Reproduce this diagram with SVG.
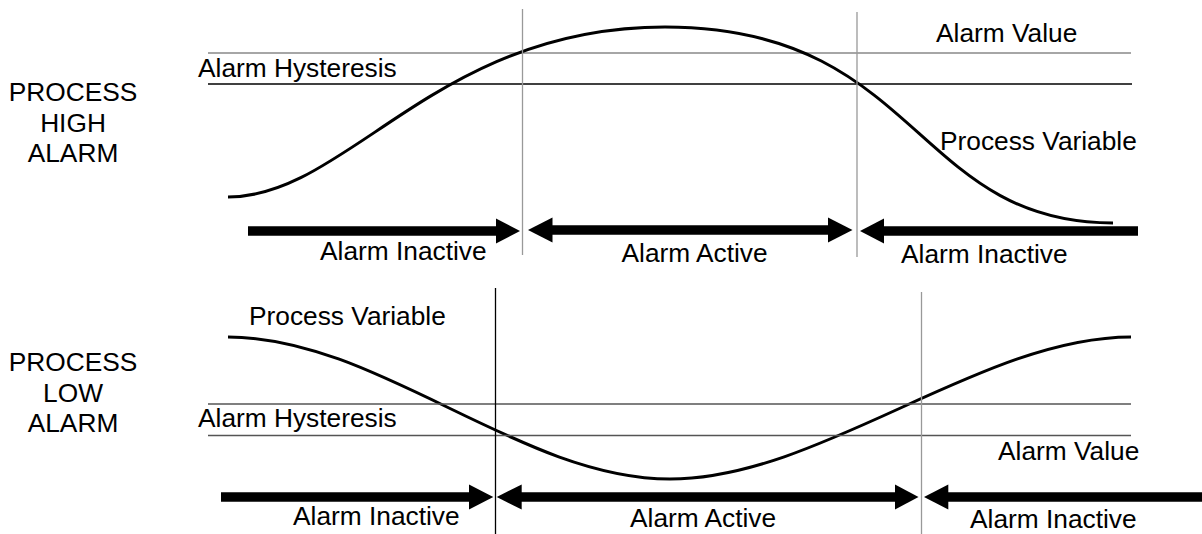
<svg xmlns="http://www.w3.org/2000/svg" width="1202" height="534" viewBox="0 0 1202 534">
<style>
text{font-family:"Liberation Sans",Arial,sans-serif;font-size:26.3px;fill:#000}
.mid{text-anchor:middle}
.ref{stroke:#888;stroke-width:1.3;fill:none}
.hys{stroke:#000;stroke-width:1.3;fill:none}
.ref2{stroke:#555;stroke-width:1.3;fill:none}
.vg{stroke:#999;stroke-width:1.3;fill:none}
.vb{stroke:#000;stroke-width:1.3;fill:none}
.pv{stroke:#000;stroke-width:3;fill:none}
.shaft{stroke:#000;stroke-width:9.5;fill:none}
.head{fill:#000}
</style>
<rect width="1202" height="534" fill="#fff"/>

<g id="high-panel">
  <g id="high-title">
    <text class="mid" x="73" y="101">PROCESS</text>
    <text class="mid" x="73" y="132">HIGH</text>
    <text class="mid" x="73" y="162">ALARM</text>
  </g>
  <g id="high-alarm-value">
    <line class="ref" x1="208" y1="53" x2="1131" y2="53"/>
    <text x="936" y="42">Alarm Value</text>
  </g>
  <g id="high-hysteresis">
    <line class="hys" x1="208" y1="84" x2="1132" y2="84"/>
    <text x="198" y="77">Alarm Hysteresis</text>
  </g>
  <g id="high-pv">
    <path class="pv" d="M228,197 C348,197 435,27 665,27 C920,27 913,223 1113,223"/>
    <text x="940" y="150">Process Variable</text>
  </g>
  <g id="high-markers">
    <line class="vg" x1="522.5" y1="9" x2="522.5" y2="255"/>
    <line class="vg" x1="857" y1="12" x2="857" y2="257"/>
  </g>
</g>

<g id="low-panel">
  <g id="low-title">
    <text class="mid" x="73" y="371">PROCESS</text>
    <text class="mid" x="73" y="402">LOW</text>
    <text class="mid" x="73" y="432">ALARM</text>
  </g>
  <g id="low-pv">
    <path class="pv" d="M228,337 C378,337 520,479 670,479 C820,479 981,337 1131,337"/>
    <text x="249" y="325">Process Variable</text>
  </g>
  <g id="low-hysteresis">
    <line class="ref2" x1="208" y1="404" x2="1131" y2="404"/>
    <text x="198" y="427">Alarm Hysteresis</text>
  </g>
  <g id="low-alarm-value">
    <line class="ref2" x1="208" y1="435.5" x2="1131" y2="435.5"/>
    <text x="998" y="460">Alarm Value</text>
  </g>
  <g id="low-markers">
    <line class="vb" x1="495.5" y1="288" x2="495.5" y2="534"/>
    <line class="vg" x1="921.5" y1="292" x2="921.5" y2="534"/>
  </g>
</g>

<g id="connectors">
  <g id="high-inactive-left">
    <line class="shaft" x1="248" y1="231" x2="498" y2="231"/>
    <polygon class="head" points="496,218.5 520,231 496,243.5"/>
    <text x="320" y="260">Alarm Inactive</text>
  </g>
  <g id="high-active">
    <line class="shaft" x1="550" y1="230" x2="830" y2="230"/>
    <polygon class="head" points="552.5,217.5 528,230 552.5,242.5"/>
    <polygon class="head" points="828,217.5 852.5,230 828,242.5"/>
    <text x="621.5" y="262">Alarm Active</text>
  </g>
  <g id="high-inactive-right">
    <line class="shaft" x1="882" y1="231" x2="1138" y2="231"/>
    <polygon class="head" points="884,218.5 860,231 884,243.5"/>
    <text x="901" y="263">Alarm Inactive</text>
  </g>
  <g id="low-inactive-left">
    <line class="shaft" x1="221" y1="497" x2="471" y2="497"/>
    <polygon class="head" points="469,484.5 493.3,497 469,509.5"/>
    <text x="293" y="525">Alarm Inactive</text>
  </g>
  <g id="low-active">
    <line class="shaft" x1="520" y1="497" x2="897" y2="497"/>
    <polygon class="head" points="521.7,484.5 496.7,497 521.7,509.5"/>
    <polygon class="head" points="895,484.5 918.5,497 895,509.5"/>
    <text x="630" y="527">Alarm Active</text>
  </g>
  <g id="low-inactive-right">
    <line class="shaft" x1="946" y1="497" x2="1202" y2="497"/>
    <polygon class="head" points="948.3,484.5 924,497 948.3,509.5"/>
    <text x="970" y="528">Alarm Inactive</text>
  </g>
</g>
</svg>
